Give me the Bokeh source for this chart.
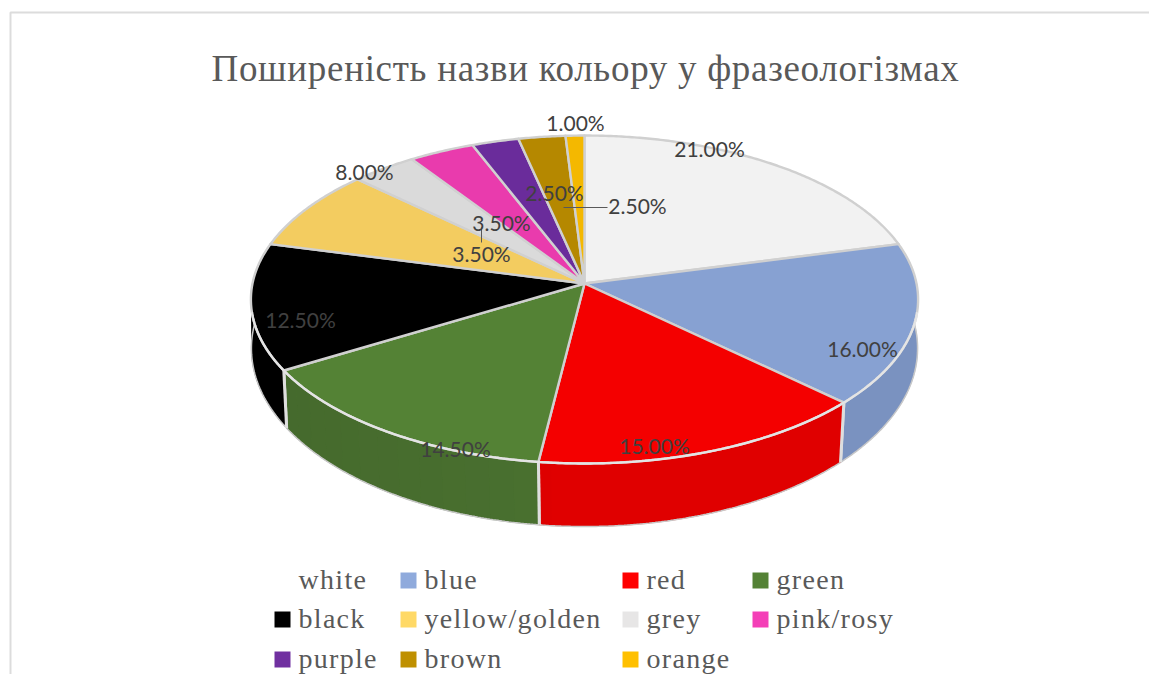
import math

from bokeh.core.properties import value
from bokeh.embed import file_html
from bokeh.events import DocumentReady
from bokeh.io import curdoc
from bokeh.models import CustomJS, Range1d
from bokeh.plotting import figure
from bokeh.resources import INLINE

# Share of each colour name, in percent
categories = ["white", "blue", "red", "green", "black", "yellow/golden",
              "grey", "pink/rosy", "purple", "brown", "orange"]
shares = [21.0, 16.0, 15.0, 14.5, 12.5, 8.0, 3.5, 3.5, 2.5, 2.5, 1.0]
title_text = "Поширеність назви кольору у фразеологізмах"

# Slice faces, side walls and legend swatches
top_colors = ["#f2f2f2", "#87a1d2", "#f40000", "#548235", "#000000", "#f3cc60",
              "#dadada", "#e93bad", "#6a2c9b", "#b58800", "#f4b800"]
wall_colors = ["#dcdcdc", "#7a92c0", "#e00000", "#4a7130", "#000000", "#dcb850",
               "#c4c4c4", "#d0309c", "#5e268a", "#a07a00", "#d8a400"]
swatch_colors = ["#ffffff", "#8faadc", "#ff0000", "#548235", "#000000", "#ffd966",
                 "#e7e6e6", "#f43fb7", "#7030a0", "#bf9000", "#ffc000"]

# Page layout of the data labels: label centre in page pixels
label_xy = [(709, 148), (862, 348), (654, 445), (455, 448), (300, 319), (364, 171),
            (481, 253), (501, 222), (554, 192), (637, 205), (575, 122)]
leaders = [([481, 481], [227, 242]), ([563, 607], [207, 207])]

# Legend layout: swatch left edge and row centre for every entry
legend_columns = [274, 400, 622, 752]
legend_rows = [580, 619, 659]
legend_cells = [(0, 0), (1, 0), (2, 0), (3, 0),
                (0, 1), (1, 1), (2, 1), (3, 1),
                (0, 2), (1, 2), (2, 2)]

# Perspective view of the disc; one set of constants per face of the cylinder
CX = 584.0
TOP = dict(cy=283.0, rx=332.0, ry=162.4, tilt=0.0976)
BOTTOM = dict(cy=333.6, rx=332.0, ry=177.0, tilt=0.08)


def project(face, turn, radius=1.0):
    """Page position of a disc point; turn runs clockwise from twelve o'clock, in degrees."""
    a = math.radians(turn)
    side, depth = radius * math.sin(a), radius * math.cos(a)
    w = 1 + face["tilt"] * depth
    return CX + face["rx"] * side / w, face["cy"] - face["ry"] * depth / w


def arc(face, start, end):
    steps = max(2, int(abs(end - start) * 2))
    pts = [project(face, start + (end - start) * i / steps) for i in range(steps + 1)]
    return [q[0] for q in pts], [q[1] for q in pts]


def shade(hex_color, factor):
    r, g, b = (int(hex_color[i:i + 2], 16) for i in (1, 3, 5))
    return "#%02x%02x%02x" % (min(255, int(r * factor)), min(255, int(g * factor)), min(255, int(b * factor)))


# Turn angles of the slice boundaries
edges = [0.0]
for s in shares:
    edges.append(edges[-1] + s * 3.6)

p = figure(width=1149, height=674, output_backend="svg", toolbar_location=None,
           x_range=Range1d(0, 1149), y_range=Range1d(674, 0),
           x_axis_type=None, y_axis_type=None, min_border=0,
           outline_line_color=None, background_fill_color="#ffffff",
           border_fill_color="#ffffff")
p.grid.visible = False

# Chart area frame
p.line([10, 10, 1149], [674, 12, 12], line_color="#dcdcdc", line_width=2)

# Side walls: a solid base per slice, then broad bands where the light falls off
WALL_START, WALL_END = 84.0, 276.0
for i, color in enumerate(wall_colors):
    a0, a1 = max(edges[i], WALL_START), min(edges[i + 1], WALL_END)
    if a1 <= a0:
        continue
    tx, ty = arc(TOP, a0, a1)
    bx, by = arc(BOTTOM, a1, a0)
    p.patch(tx + bx, ty + by, fill_color=color, line_color=color, line_width=0.5)
    turn = a0
    while turn < a1:
        nxt = min(turn + 4.0, a1)
        factor = 1.0 - 0.07 * max(0.0, math.sin(math.radians(turn - 180)))
        if factor < 0.995:
            tx, ty = arc(TOP, turn, nxt)
            bx, by = arc(BOTTOM, nxt, turn)
            fill = shade(color, factor)
            p.patch(tx + bx, ty + by, fill_color=fill, line_color=None)
        turn = nxt
    bx, by = arc(BOTTOM, a0, a1)
    p.line(bx, by, line_color="#c8c8c8", line_width=1.5)
    for e in (a0, a1):
        if WALL_START < e < WALL_END:
            t, b = project(TOP, e), project(BOTTOM, e)
            p.line([t[0], b[0]], [t[1], b[1]], line_color="#dedede", line_width=3)

# Top face of the pie
for i, color in enumerate(top_colors):
    ax, ay = arc(TOP, edges[i], edges[i + 1])
    cx, cy = project(TOP, 0, 0)
    p.patch([cx] + ax + [cx], [cy] + ay + [cy], fill_color=color,
            line_color="#d0d0d0", line_width=2.4, line_join="round")

# Front rim catches more light than the back of the disc
rx, ry = arc(TOP, 100.0, 260.0)
p.line(rx, ry, line_color="#e4e4e4", line_width=2.4)

# Leader lines for the labels moved off their slices
for lx, ly in leaders:
    p.line(lx, ly, line_color="#595959", line_width=1)

# Data labels
p.text([q[0] for q in label_xy], [q[1] for q in label_xy],
       text=["%.2f%%" % s for s in shares], text_font=value("Lato"),
       text_font_size="21px", text_color="#404040",
       text_align="center", text_baseline="middle")

# Title, left-anchored so the tracking below keeps its start in place
p.text([211], [68], text=[title_text], text_font=value("Liberation Serif"),
       text_font_size="37px", text_color="#595959",
       text_align="left", text_baseline="middle")

# Legend
sw_x = [legend_columns[c] + 8 for c, r in legend_cells]
sw_y = [legend_rows[r] for c, r in legend_cells]
p.rect(sw_x, sw_y, width=16, height=16, fill_color=swatch_colors, line_color=None)
p.text([legend_columns[c] + 24 for c, r in legend_cells],
       [legend_rows[r] - 1 for c, r in legend_cells], text=categories,
       text_font=value("Liberation Serif"), text_font_size="28px",
       text_color="#595959", text_align="left", text_baseline="middle")

# Track out the serif texts once the SVG exists; glyph properties have no letter spacing
doc = curdoc()
doc.add_root(p)
doc.js_on_event(DocumentReady, CustomJS(code="""
const spacing = {'37px': '0.7px', '28px': '1.3px'};
const walk = (root) => {
  root.querySelectorAll('*').forEach((el) => {
    if (el.shadowRoot) walk(el.shadowRoot);
    if (el.tagName.toLowerCase() === 'text') {
      const size = el.getAttribute('font-size') || el.style.fontSize;
      if (spacing[size]) el.style.letterSpacing = spacing[size];
    }
  });
};
[0, 50, 200, 500, 1000].forEach((ms) => setTimeout(() => walk(document), ms));
"""))

open("out.html", "w").write(file_html(p, INLINE))
